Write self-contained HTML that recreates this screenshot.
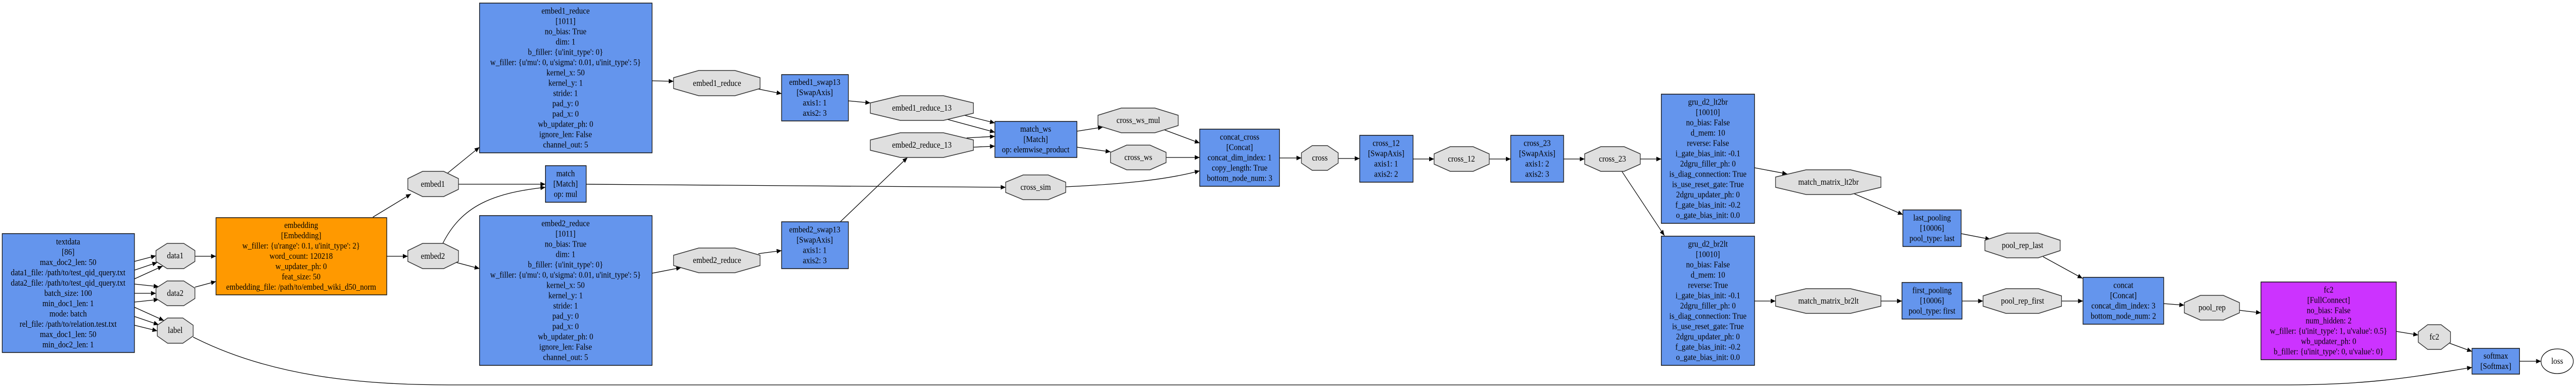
<!DOCTYPE html>
<html><head><meta charset="utf-8"><style>
html,body{margin:0;padding:0;background:#fff;overflow:hidden;}
svg{display:block;width:100vw;height:100vh;}
text{font-family:"Liberation Serif",serif;font-size:17px;fill:#000;text-anchor:middle;dominant-baseline:central;}
.b{fill:#6495ED;stroke:#111;stroke-width:1.5;}
.o{fill:#dfdfdf;stroke:#333;stroke-width:1.5;}
.e{fill:none;stroke:#000;stroke-width:1.3;marker-end:url(#ah);}
</style></head><body>
<svg viewBox="0 0 5748 754" preserveAspectRatio="none" xmlns="http://www.w3.org/2000/svg">
<defs><marker id="ah" markerUnits="userSpaceOnUse" markerWidth="12" markerHeight="9" refX="11" refY="4.5" orient="auto"><path d="M0,0 L11,4.5 L0,9 z" fill="#000"/></marker></defs>
<rect width="5748" height="754" fill="#fff"/>

<line class="e" x1="300" y1="508" x2="348" y2="497"/>
<line class="e" x1="300" y1="525" x2="351" y2="510"/>
<line class="e" x1="300" y1="542" x2="363" y2="517"/>
<line class="e" x1="300" y1="552" x2="354" y2="557"/>
<line class="e" x1="300" y1="570" x2="348" y2="570"/>
<line class="e" x1="300" y1="587" x2="354" y2="582"/>
<line class="e" x1="300" y1="597" x2="366" y2="623"/>
<line class="e" x1="300" y1="615" x2="354" y2="631"/>
<line class="e" x1="300" y1="632" x2="351" y2="643"/>
<line class="e" x1="435" y1="498" x2="482" y2="498"/>
<line class="e" x1="435" y1="558" x2="482" y2="547"/>
<line class="e" x1="832" y1="422" x2="917" y2="377"/>
<line class="e" x1="863" y1="498" x2="910" y2="498"/>
<path class="e" d="M431,655 C600,730 800,748 1000,748 L5100,748 C5300,748 5400,730 5516,714"/>
<line class="e" x1="998" y1="337" x2="1070" y2="286"/>
<line class="e" x1="1023" y1="358" x2="1217" y2="358"/>
<path class="e" d="M988,473 C1030,400 1100,375 1217,364"/>
<line class="e" x1="1308" y1="358" x2="2244" y2="364"/>
<line class="e" x1="1455" y1="157" x2="1503" y2="158"/>
<line class="e" x1="1692" y1="173" x2="1744" y2="182"/>
<line class="e" x1="1018" y1="510" x2="1070" y2="522"/>
<line class="e" x1="1455" y1="531" x2="1520" y2="520"/>
<line class="e" x1="1692" y1="493" x2="1744" y2="487"/>
<line class="e" x1="1893" y1="196" x2="1942" y2="200"/>
<line class="e" x1="1875" y1="431" x2="2025" y2="306"/>
<line class="e" x1="2152" y1="224" x2="2220" y2="239"/>
<line class="e" x1="2114" y1="232" x2="2220" y2="257"/>
<line class="e" x1="2157" y1="268" x2="2220" y2="265"/>
<line class="e" x1="2172" y1="286" x2="2220" y2="284"/>
<line class="e" x1="2403" y1="255" x2="2461" y2="247"/>
<line class="e" x1="2403" y1="286" x2="2478" y2="295"/>
<line class="e" x1="2597" y1="252" x2="2677" y2="278"/>
<line class="e" x1="2602" y1="306" x2="2677" y2="306"/>
<path class="e" d="M2378,363 C2500,358 2600,350 2677,332"/>
<line class="e" x1="2855" y1="307" x2="2904" y2="307"/>
<line class="e" x1="2986" y1="308" x2="3034" y2="308"/>
<line class="e" x1="3153" y1="309" x2="3200" y2="309"/>
<line class="e" x1="3323" y1="309" x2="3371" y2="309"/>
<line class="e" x1="3489" y1="309" x2="3536" y2="309"/>
<line class="e" x1="3660" y1="309" x2="3707" y2="309"/>
<line class="e" x1="3619" y1="333" x2="3714" y2="458"/>
<line class="e" x1="3915" y1="326" x2="3988" y2="338"/>
<line class="e" x1="4136" y1="376" x2="4246" y2="417"/>
<line class="e" x1="4376" y1="454" x2="4441" y2="465"/>
<line class="e" x1="4559" y1="499" x2="4647" y2="541"/>
<line class="e" x1="3915" y1="585" x2="3962" y2="585"/>
<line class="e" x1="4197" y1="585" x2="4244" y2="585"/>
<line class="e" x1="4378" y1="585" x2="4425" y2="585"/>
<line class="e" x1="4600" y1="585" x2="4648" y2="585"/>
<line class="e" x1="4827" y1="590" x2="4874" y2="593"/>
<line class="e" x1="4997" y1="603" x2="5045" y2="608"/>
<line class="e" x1="5347" y1="644" x2="5396" y2="651"/>
<line class="e" x1="5466" y1="667" x2="5516" y2="683"/>
<line class="e" x1="5622" y1="702" x2="5670" y2="702"/>

<rect class="b" x="5" y="454" width="295" height="231"/>
<text x="152" y="470">textdata</text><text x="152" y="490">[86]</text><text x="152" y="510">max_doc2_len: 50</text><text x="152" y="530">data1_file: /path/to/test_qid_query.txt</text><text x="152" y="550">data2_file: /path/to/test_qid_query.txt</text><text x="152" y="570">batch_size: 100</text><text x="152" y="590">min_doc1_len: 1</text><text x="152" y="610">mode: batch</text><text x="152" y="630">rel_file: /path/to/relation.test.txt</text><text x="152" y="650">max_doc1_len: 50</text><text x="152" y="670">min_doc2_len: 1</text>

<rect x="482" y="423" width="381" height="150" fill="#FF9900" stroke="#111" stroke-width="1.5"/>
<text x="672" y="438">embedding</text><text x="672" y="458">[Embedding]</text><text x="672" y="478">w_filler: {u'range': 0.1, u'init_type': 2}</text><text x="672" y="498">word_count: 120218</text><text x="672" y="518">w_updater_ph: 0</text><text x="672" y="538">feat_size: 50</text><text x="672" y="558">embedding_file: /path/to/embed_wiki_d50_norm</text>

<rect class="b" x="1070" y="6" width="385" height="291"/>
<g transform="translate(1262,21.5)"><text y="0">embed1_reduce</text><text y="20">[1011]</text><text y="40">no_bias: True</text><text y="60">dim: 1</text><text y="80">b_filler: {u'init_type': 0}</text><text y="100">w_filler: {u'mu': 0, u'sigma': 0.01, u'init_type': 5}</text><text y="120">kernel_x: 50</text><text y="140">kernel_y: 1</text><text y="160">stride: 1</text><text y="180">pad_y: 0</text><text y="200">pad_x: 0</text><text y="220">wb_updater_ph: 0</text><text y="240">ignore_len: False</text><text y="260">channel_out: 5</text></g>

<rect class="b" x="1070" y="419" width="385" height="291"/>
<g transform="translate(1262,434.5)"><text y="0">embed2_reduce</text><text y="20">[1011]</text><text y="40">no_bias: True</text><text y="60">dim: 1</text><text y="80">b_filler: {u'init_type': 0}</text><text y="100">w_filler: {u'mu': 0, u'sigma': 0.01, u'init_type': 5}</text><text y="120">kernel_x: 50</text><text y="140">kernel_y: 1</text><text y="160">stride: 1</text><text y="180">pad_y: 0</text><text y="200">pad_x: 0</text><text y="220">wb_updater_ph: 0</text><text y="240">ignore_len: False</text><text y="260">channel_out: 5</text></g>

<rect class="b" x="1217" y="322" width="91" height="71"/>
<g transform="translate(1262,337.5)"><text y="0">match</text><text y="20">[Match]</text><text y="40">op: mul</text></g>

<rect class="b" x="1744" y="145" width="149" height="90"/>
<g transform="translate(1818,160)"><text y="0">embed1_swap13</text><text y="20">[SwapAxis]</text><text y="40">axis1: 1</text><text y="60">axis2: 3</text></g>
<rect class="b" x="1744" y="431" width="149" height="91"/>
<g transform="translate(1818,446.5)"><text y="0">embed2_swap13</text><text y="20">[SwapAxis]</text><text y="40">axis1: 1</text><text y="60">axis2: 3</text></g>

<rect class="b" x="2220" y="236" width="183" height="70"/>
<g transform="translate(2311,251)"><text y="0">match_ws</text><text y="20">[Match]</text><text y="40">op: elemwise_product</text></g>

<rect class="b" x="2677" y="251" width="178" height="111"/>
<g transform="translate(2766,266.5)"><text y="0">concat_cross</text><text y="20">[Concat]</text><text y="40">concat_dim_index: 1</text><text y="60">copy_length: True</text><text y="80">bottom_node_num: 3</text></g>

<rect class="b" x="3034" y="263" width="119" height="91"/>
<g transform="translate(3093,278.5)"><text y="0">cross_12</text><text y="20">[SwapAxis]</text><text y="40">axis1: 1</text><text y="60">axis2: 2</text></g>
<rect class="b" x="3371" y="263" width="118" height="91"/>
<g transform="translate(3430,278.5)"><text y="0">cross_23</text><text y="20">[SwapAxis]</text><text y="40">axis1: 2</text><text y="60">axis2: 3</text></g>

<rect class="b" x="3707" y="183" width="208" height="251"/>
<g transform="translate(3811,198.5)"><text y="0">gru_d2_lt2br</text><text y="20">[10010]</text><text y="40">no_bias: False</text><text y="60">d_mem: 10</text><text y="80">reverse: False</text><text y="100">i_gate_bias_init: -0.1</text><text y="120">2dgru_filler_ph: 0</text><text y="140">is_diag_connection: True</text><text y="160">is_use_reset_gate: True</text><text y="180">2dgru_updater_ph: 0</text><text y="200">f_gate_bias_init: -0.2</text><text y="220">o_gate_bias_init: 0.0</text></g>
<rect class="b" x="3707" y="459" width="208" height="251"/>
<g transform="translate(3811,474.5)"><text y="0">gru_d2_br2lt</text><text y="20">[10010]</text><text y="40">no_bias: False</text><text y="60">d_mem: 10</text><text y="80">reverse: True</text><text y="100">i_gate_bias_init: -0.1</text><text y="120">2dgru_filler_ph: 0</text><text y="140">is_diag_connection: True</text><text y="160">is_use_reset_gate: True</text><text y="180">2dgru_updater_ph: 0</text><text y="200">f_gate_bias_init: -0.2</text><text y="220">o_gate_bias_init: 0.0</text></g>

<rect class="b" x="4246" y="408" width="130" height="71"/>
<g transform="translate(4311,423.5)"><text y="0">last_pooling</text><text y="20">[10006]</text><text y="40">pool_type: last</text></g>
<rect class="b" x="4244" y="549" width="134" height="71"/>
<g transform="translate(4311,564.5)"><text y="0">first_pooling</text><text y="20">[10006]</text><text y="40">pool_type: first</text></g>

<rect class="b" x="4648" y="539" width="180" height="91"/>
<g transform="translate(4738,554.5)"><text y="0">concat</text><text y="20">[Concat]</text><text y="40">concat_dim_index: 3</text><text y="60">bottom_node_num: 2</text></g>

<rect x="5045" y="548" width="302" height="151" fill="#CC33FF" stroke="#111" stroke-width="1.5"/>
<g transform="translate(5196,563.5)"><text y="0">fc2</text><text y="20">[FullConnect]</text><text y="40">no_bias: False</text><text y="60">num_hidden: 2</text><text y="80">w_filler: {u'init_type': 1, u'value': 0.5}</text><text y="100">wb_updater_ph: 0</text><text y="120">b_filler: {u'init_type': 0, u'value': 0}</text></g>

<rect class="b" x="5516" y="677" width="106" height="50"/>
<g transform="translate(5569,692)"><text y="0">softmax</text><text y="20">[Softmax]</text></g>

<ellipse cx="5706" cy="702" rx="36" ry="24" fill="#fff" stroke="#000" stroke-width="1.3"/>
<text x="5706" y="702">loss</text>

<polygon class="o" points="373,473 410,473 435,487 435,508 410,522 373,522 348,508 348,487"/><text x="391" y="497">data1</text>
<polygon class="o" points="373,546 410,546 435,560 435,580 410,594 373,594 348,580 348,560"/><text x="391" y="570">data2</text>
<polygon class="o" points="374,618 408,618 431,632 431,653 408,667 374,667 351,653 351,632"/><text x="391" y="642">label</text>
<polygon class="o" points="943,333 990,333 1023,347 1023,368 990,382 943,382 910,368 910,347"/><text x="966" y="358">embed1</text>
<polygon class="o" points="943,473 990,473 1023,487 1023,508 990,522 943,522 910,508 910,487"/><text x="966" y="498">embed2</text>
<polygon class="o" points="1559,137 1640,137 1696,151 1696,172 1640,186 1559,186 1503,172 1503,151"/><text x="1600" y="162">embed1_reduce</text>
<polygon class="o" points="1559,482 1640,482 1696,496 1696,516 1640,530 1559,530 1503,516 1503,496"/><text x="1600" y="506">embed2_reduce</text>
<polygon class="o" points="2009,186 2105,186 2172,200 2172,220 2105,234 2009,234 1942,220 1942,200"/><text x="2057" y="210">embed1_reduce_13</text>
<polygon class="o" points="2009,258 2105,258 2172,272 2172,292 2105,306 2009,306 1942,292 1942,272"/><text x="2057" y="282">embed2_reduce_13</text>
<polygon class="o" points="2502,210 2577,210 2629,224 2629,244 2577,258 2502,258 2450,244 2450,224"/><text x="2540" y="234">cross_ws_mul</text>
<polygon class="o" points="2514,282 2566,282 2602,296 2602,316 2566,330 2514,330 2478,316 2478,296"/><text x="2540" y="306">cross_ws</text>
<polygon class="o" points="2283,340 2339,340 2378,354 2378,374 2339,388 2283,388 2244,374 2244,354"/><text x="2311" y="364">cross_sim</text>
<polygon class="o" points="2928,283 2962,283 2986,297 2986,317 2962,331 2928,331 2904,317 2904,297"/><text x="2945" y="307">cross</text>
<polygon class="o" points="3236,285 3287,285 3323,299 3323,319 3287,333 3236,333 3200,319 3200,299"/><text x="3261" y="309">cross_12</text>
<polygon class="o" points="3572,285 3624,285 3660,299 3660,319 3624,333 3572,333 3536,319 3536,299"/><text x="3598" y="309">cross_23</text>
<polygon class="o" points="4030,330 4129,330 4197,344 4197,364 4129,378 4030,378 3962,364 3962,344"/><text x="4080" y="354">match_matrix_lt2br</text>
<polygon class="o" points="4030,561 4129,561 4197,575 4197,595 4129,609 4030,609 3962,595 3962,575"/><text x="4080" y="585">match_matrix_br2lt</text>
<polygon class="o" points="4478,453 4548,453 4597,467 4597,487 4548,501 4478,501 4429,487 4429,467"/><text x="4513" y="477">pool_rep_last</text>
<polygon class="o" points="4476,561 4549,561 4600,575 4600,595 4549,609 4476,609 4425,595 4425,575"/><text x="4513" y="585">pool_rep_first</text>
<polygon class="o" points="4910,574 4961,574 4997,588 4997,608 4961,622 4910,622 4874,608 4874,588"/><text x="4936" y="598">pool_rep</text>
<polygon class="o" points="5417,631 5447,631 5468,645 5468,665 5447,679 5417,679 5396,665 5396,645"/><text x="5432" y="655">fc2</text>
</svg>
</body></html>
